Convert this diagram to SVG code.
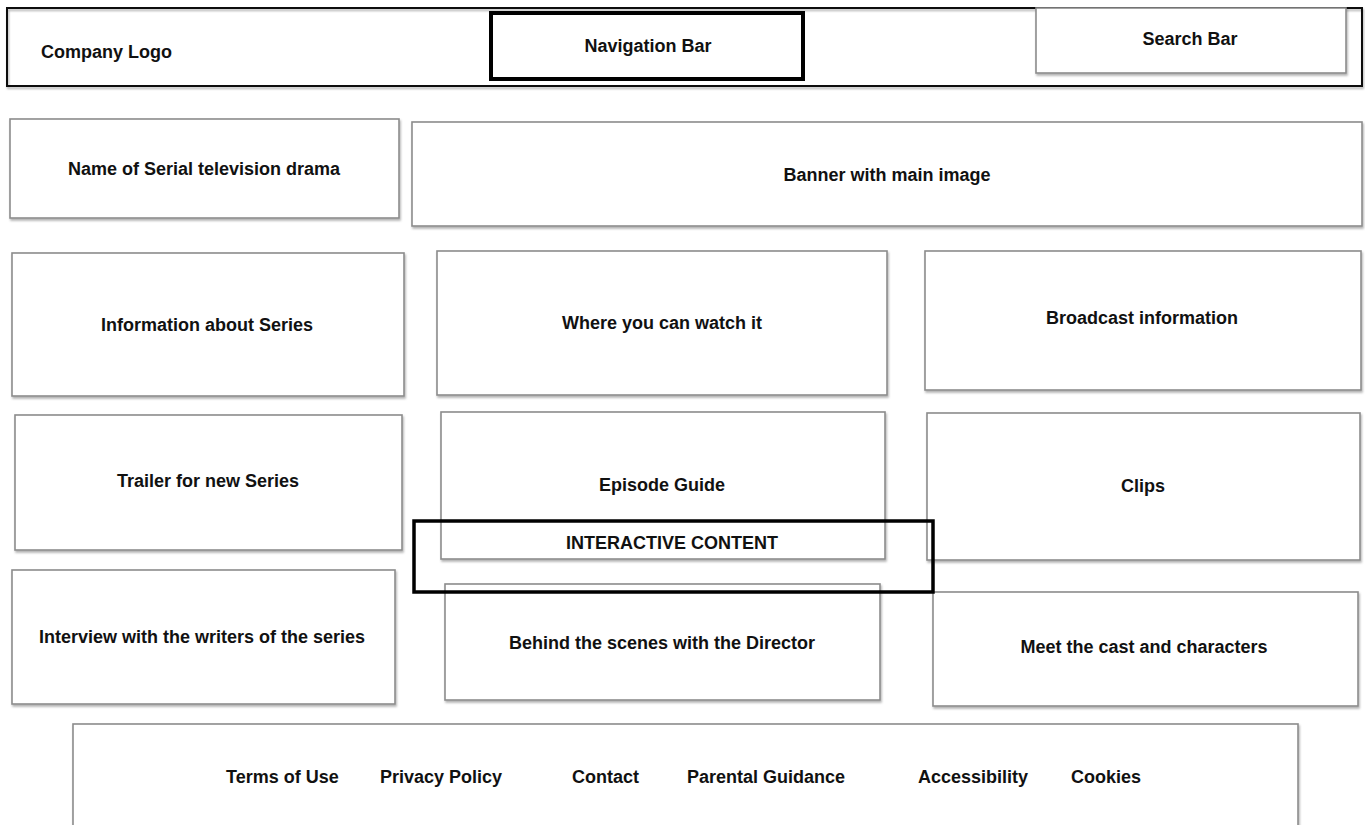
<svg xmlns="http://www.w3.org/2000/svg" width="1365" height="825" viewBox="0 0 1365 825">
<defs>
<filter id="sh" x="-5%" y="-5%" width="110%" height="120%">
<feDropShadow dx="1" dy="2" stdDeviation="1.2" flood-color="#000" flood-opacity="0.3"/>
</filter>
</defs>
<style>
.box{fill:#fff;stroke:#8c8c8c;stroke-width:1.6;filter:url(#sh)}
.dark{fill:none;stroke:#111;stroke-width:2;filter:url(#sh)}
.bold{fill:none;stroke:#000;stroke-width:4}
.ic{fill:none;stroke:#000;stroke-width:3.5}
text{font-family:"Liberation Sans",Arial,sans-serif;font-weight:bold;font-size:18px;fill:#111;text-anchor:middle;dominant-baseline:central}
.l{text-anchor:start}
.icl{font-family:"Liberation Sans",Arial,sans-serif;font-weight:bold;font-size:18px}
</style>
<rect width="1365" height="825" fill="#fff"/>
<g id="header">
<rect class="dark" x="7" y="8" width="1355" height="78"/>
<text class="l" x="41" y="52">Company Logo</text>
</g>
<g id="nav">
<rect class="bold" x="491" y="13" width="312" height="66"/>
<text x="648" y="46">Navigation Bar</text>
</g>
<g id="search">
<rect class="box" x="1036" y="8" width="310" height="65"/>
<text x="1190" y="39">Search Bar</text>
</g>
<g id="name">
<rect class="box" x="10" y="119" width="389" height="99"/>
<text x="204" y="169">Name of Serial television drama</text>
</g>
<g id="banner">
<rect class="box" x="412" y="122" width="950" height="104"/>
<text x="887" y="175">Banner with main image</text>
</g>
<g id="info">
<rect class="box" x="12" y="253" width="392" height="143"/>
<text x="207" y="325">Information about Series</text>
</g>
<g id="watch">
<rect class="box" x="437" y="251" width="450" height="144"/>
<text x="662" y="323">Where you can watch it</text>
</g>
<g id="broadcast">
<rect class="box" x="925" y="251" width="436" height="139"/>
<text x="1142" y="318">Broadcast information</text>
</g>
<g id="trailer">
<rect class="box" x="15" y="415" width="387" height="135"/>
<text x="208" y="481">Trailer for new Series</text>
</g>
<g id="episode">
<rect class="box" x="441" y="412" width="444" height="147"/>
<text x="662" y="485">Episode Guide</text>
</g>
<g id="clips">
<rect class="box" x="927" y="413" width="433" height="147"/>
<text x="1143" y="486">Clips</text>
</g>
<g id="interview">
<rect class="box" x="12" y="570" width="383" height="134"/>
<text x="202" y="637">Interview with the writers of the series</text>
</g>
<g id="behind">
<rect class="box" x="445" y="584" width="435" height="116"/>
<text x="662" y="643">Behind the scenes with the Director</text>
</g>
<g id="cast">
<rect class="box" x="933" y="592" width="425" height="114"/>
<text x="1144" y="647">Meet the cast and characters</text>
</g>
<g id="interactive">
<rect class="ic" x="414" y="521" width="519" height="71"/>
<text x="672" y="543">INTERACTIVE CONTENT</text>
</g>
<g id="footer">
<rect class="box" x="73" y="724" width="1225" height="120"/>
<text class="l" x="226" y="777">Terms of Use</text>
<text class="l" x="380" y="777">Privacy Policy</text>
<text class="l" x="572" y="777">Contact</text>
<text class="l" x="687" y="777">Parental Guidance</text>
<text class="l" x="918" y="777">Accessibility</text>
<text class="l" x="1071" y="777">Cookies</text>
</g>
<g id="connectors"></g>
</svg>
